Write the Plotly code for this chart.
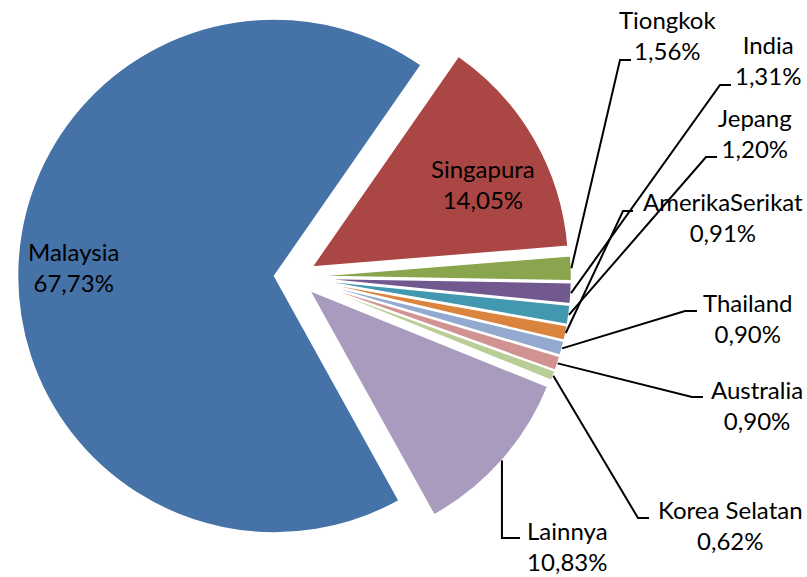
import math

import plotly.graph_objects as go

# Chart data (share of exports by destination, %).
countries = ["Malaysia", "Singapura", "Tiongkok", "India", "Jepang",
             "AmerikaSerikat", "Thailand", "Australia", "Korea Selatan", "Lainnya"]
shares = [67.73, 14.05, 1.56, 1.31, 1.20, 0.91, 0.90, 0.90, 0.62, 10.83]
colors = ["#4572A7", "#AA4643", "#89A54E", "#71588F", "#4198AF",
          "#DB843D", "#93A9CF", "#D19392", "#B9CD96", "#A99BBD"]

W, H = 807, 577
pull = 0.078
rotation = 151
dom_x = [0.0217, 0.7082]
dom_y = [1 - 554 / H, 1]

fig = go.Figure(go.Pie(
    labels=countries, values=shares, sort=False, direction="clockwise",
    rotation=rotation, pull=pull, textinfo="none", hoverinfo="label+percent",
    marker=dict(colors=colors, line=dict(color="white", width=1.5)),
    domain=dict(x=dom_x, y=dom_y), showlegend=False,
))

# Pie geometry in pixels (same rule plotly uses to size the pie).
box_w = W * (dom_x[1] - dom_x[0])
box_h = H * (dom_y[1] - dom_y[0])
r = min(box_w, box_h) / 2 / (1 + pull)
cx = W * (dom_x[0] + dom_x[1]) / 2
cy = H * (1 - dom_y[0]) - box_h / 2

total = sum(shares)
mid_angles = []
acc = 0
for v in shares:
    mid_angles.append(rotation + (acc + v / 2) / total * 360)
    acc += v


def px_to_paper(x, y):
    return x / W, 1 - y / H


# Label placement: centre x, first/second baseline (pixels).
label_pos = {
    "Malaysia": (73, 259, 292),
    "Singapura": (483, 177, 210),
    "Tiongkok": (667, 27, 60),
    "India": (768, 53, 85),
    "Jepang": (755, 127, 157),
    "AmerikaSerikat": (723, 211, 242),
    "Thailand": (747, 311, 342),
    "Australia": (757, 397, 430),
    "Korea Selatan": (730, 518, 550),
    "Lainnya": (567, 538, 572),
}
# Leader lines: elbow and end point near the label (None = straight down).
leaders = {
    "Tiongkok": ((620, 60), (631, 60)),
    "India": ((720, 85), (731, 85)),
    "Jepang": ((706, 157), (717, 157)),
    "AmerikaSerikat": ((623, 211), (633, 211)),
    "Thailand": ((685, 311), (697, 311)),
    "Australia": ((692, 397), (703, 397)),
    "Korea Selatan": ((638, 518), (649, 518)),
    "Lainnya": ((None, 538), (520, 538)),
}

for name, v in zip(countries, shares):
    x, b1, b2 = label_pos[name]
    px, py = px_to_paper(x, (b1 + b2) / 2 - 9)
    fig.add_annotation(
        x=px, y=py, xref="paper", yref="paper", xanchor="center", yanchor="middle",
        text=f"{name}<br>{v:.2f}%".replace(".", ","), showarrow=False,
        font=dict(family="Lato", size=24, color="black"),
    )

for i, name in enumerate(countries):
    if name not in leaders:
        continue
    a = math.radians(mid_angles[i])
    ax = cx + (r * (1 + pull)) * math.sin(a)
    ay = cy - (r * (1 + pull)) * math.cos(a)
    (ex, ey), (tx, ty) = leaders[name]
    if ex is None:
        ex = ax
    pts = [px_to_paper(ax, ay), px_to_paper(ex, ey), px_to_paper(tx, ty)]
    path = "M " + " L ".join(f"{p[0]:.5f},{p[1]:.5f}" for p in pts)
    fig.add_shape(type="path", path=path, xref="paper", yref="paper",
                  line=dict(color="black", width=2), layer="above")

fig.update_layout(
    width=W, height=H, margin=dict(l=0, r=0, t=0, b=0),
    paper_bgcolor="white", plot_bgcolor="white",
    font=dict(family="Lato"),
)

# drop the browser's default 8px body margin so the figure fills the window
fig.write_html("out.html", config={"displayModeBar": False},
               post_script="document.body.style.margin='0';")
